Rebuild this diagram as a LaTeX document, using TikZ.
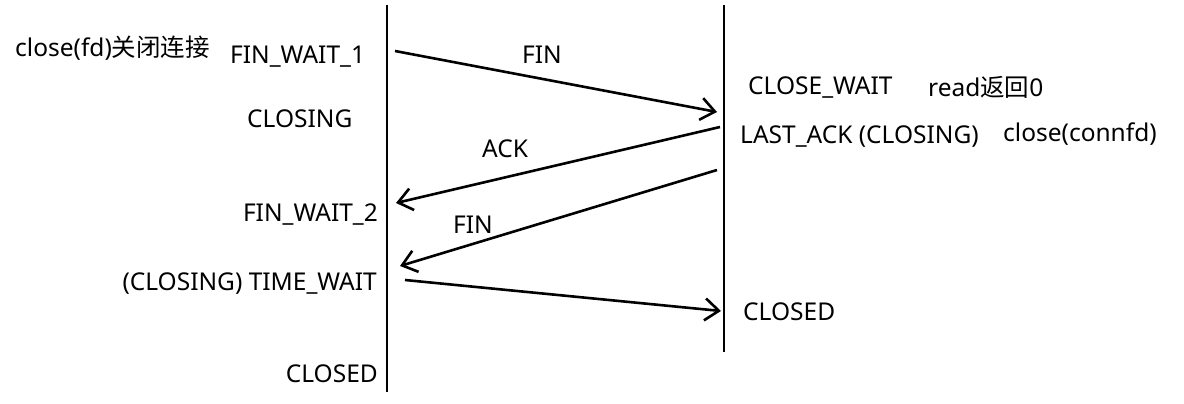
\documentclass[tikz,border=0pt]{standalone}
\usepackage{fontspec}
\setmainfont{Noto Sans}
\newfontfamily\cjk{Noto Sans CJK SC}
\usetikzlibrary{arrows.meta}
\begin{document}
\begin{tikzpicture}[x=1pt,y=-1pt,
  lbl/.style={inner sep=0pt,font=\fontsize{24.5}{29}\selectfont},
  lifeline/.style={line width=2.6pt},
  msg/.style={line width=2.6pt,-{Straight Barb[length=14pt,width=22pt,line width=2.6pt]}}]
\useasboundingbox (0,0) rectangle (1184,404);
% lifelines
\coordinate (ltop) at (387,5);
\coordinate (lbot) at (387,392);
\coordinate (rtop) at (724,5);
\coordinate (rbot) at (724,352);
\draw[lifeline] (ltop) -- (lbot);
\draw[lifeline] (rtop) -- (rbot);
% message endpoints
\coordinate (a1) at (395,51);
\coordinate (b1) at (717,112);
\coordinate (a2) at (720,127);
\coordinate (b2) at (396,203);
\coordinate (a3) at (717,170);
\coordinate (b3) at (400,266);
\coordinate (a4) at (405,280);
\coordinate (b4) at (721,311);
\draw[msg] (a1) -- (b1);
\draw[msg] (a2) -- (b2);
\draw[msg] (a3) -- (b3);
\draw[msg] (a4) -- (b4);
% labels on messages
\node[lbl,anchor=base] (fin1) at (542,64) {FIN};
\node[lbl,anchor=base] (ack) at (505,157) {ACK};
\node[lbl,anchor=base] (fin2) at (473,233) {FIN};
% left side
\node[lbl,anchor=base west] (closefd) at (15,57) {close(fd){\cjk 关闭连接}};
\node[lbl,anchor=base west] (fw1) at (230,64) {FIN\_WAIT\_1};
\node[lbl,anchor=base west] (closing) at (247,128) {CLOSING};
\node[lbl,anchor=base east] (fw2) at (378,221) {FIN\_WAIT\_2};
\node[lbl,anchor=base east] (tw) at (377,290) {(CLOSING) TIME\_WAIT};
\node[lbl,anchor=base east] (closedl) at (378,382) {CLOSED};
% right side
\node[lbl,anchor=base west] (cw) at (748,95) {CLOSE\_WAIT};
\node[lbl,anchor=base west] (read) at (928,96) {read{\cjk 返回}0};
\node[lbl,anchor=base west] (la) at (740,143) {LAST\_ACK (CLOSING)};
\node[lbl,anchor=base west] (closec) at (1003,141) {close(connfd)};
\node[lbl,anchor=base west] (closedr) at (743,320) {CLOSED};
\end{tikzpicture}
\end{document}
